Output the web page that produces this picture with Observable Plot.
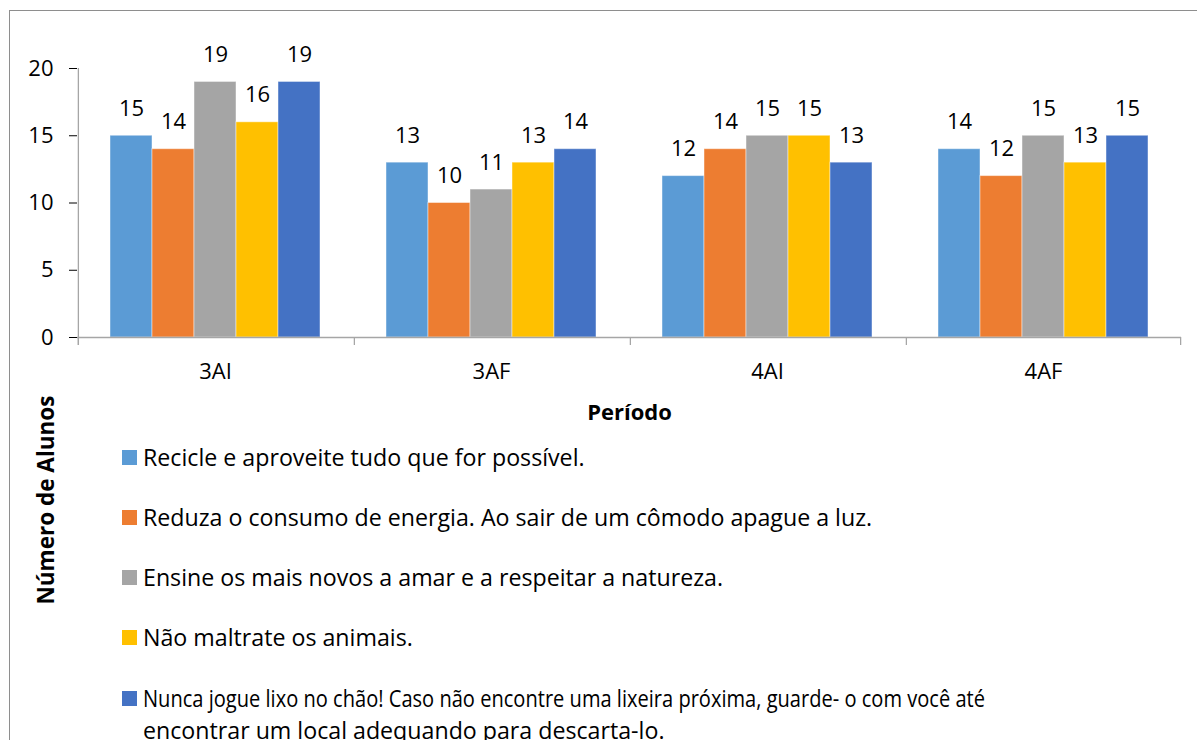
<!DOCTYPE html>
<html>
<head>
<meta charset="utf-8">
<script src="https://cdn.jsdelivr.net/npm/d3@7"></script>
<script src="https://cdn.jsdelivr.net/npm/@observablehq/plot@0.6"></script>
<style>
html, body { margin: 0; padding: 0; background: #fff; overflow: hidden; width: 1197px; height: 740px; }
#frame { position: absolute; left: 9px; top: 10px; width: 1300px; height: 900px; border: 1px solid #8e8e8e; box-sizing: border-box; pointer-events: none; }
#chart { position: absolute; left: 0; top: 0; }
#ytitle { position: absolute; left: 45px; top: 500px; transform: translate(-50%, -50%) rotate(-90deg); font: bold 22.5px "Open Sans", sans-serif; white-space: nowrap; color: #000; }
.legend-item { position: absolute; left: 122px; font: 23.2px "Open Sans", sans-serif; line-height: 32px; color: #000; }
.legend-item .sw { position: absolute; left: 0; top: 9px; width: 15px; height: 15px; }
.legend-item .lab { position: absolute; left: 21px; top: 0; white-space: nowrap; }
.legend-item .line { display: block; white-space: nowrap; transform-origin: 0 0; width: max-content; }
#chart [aria-label="fx-axis label"] { font-weight: bold; }
#chart [aria-label="y-axis tick"] { stroke: #a6a6a6; }
</style>
</head>
<body>
<div id="chart"></div>
<div id="ytitle">Número de Alunos</div>
<div id="frame"></div>
<script>
// ---- data ----
const categories = ["3AI", "3AF", "4AI", "4AF"];
const seriesLabels = [
  "Recicle e aproveite tudo que for possível.",
  "Reduza o consumo de energia. Ao sair de um cômodo apague a luz.",
  "Ensine os mais novos a amar e a respeitar a natureza.",
  "Não maltrate os animais.",
  "Nunca jogue lixo no chão! Caso não encontre uma lixeira próxima, guarde- o com você até encontrar um local adequando para descarta-lo."
];
const recicle     = [15, 13, 12, 14];
const reduza      = [14, 10, 14, 12];
const ensine      = [19, 11, 15, 15];
const naoMaltrate = [16, 13, 15, 13];
const nuncaJogue  = [19, 14, 13, 15];
const yTicks = [0, 5, 10, 15, 20];
const seriesColors = ["#5B9BD5", "#ED7D31", "#A5A5A5", "#FFC000", "#4472C4"];

const seriesValues = [recicle, reduza, ensine, naoMaltrate, nuncaJogue];
const data = categories.flatMap((c, i) =>
  seriesLabels.map((s, j) => ({category: c, series: s, value: seriesValues[j][i]})));

// ---- layout ----
const W = 1197, H = 440, mL = 76, mR = 16, mT = 68, mB = H - 337;
const padOuter = 0.75;
const step = (W - mL - mR) / categories.length / (seriesLabels.length + 2 * padOuter);
const edge = step * (0.5 + padOuter);
const axisColor = "#a6a6a6";

const plot = Plot.plot({
  width: W, height: H,
  marginLeft: mL, marginRight: mR, marginTop: mT, marginBottom: mB,
  style: {fontFamily: "'Open Sans', sans-serif", fontSize: "22px", color: "#000", background: "transparent", overflow: "visible"},
  fx: {domain: categories, padding: 0, label: "Período", labelAnchor: "center", labelOffset: 82, tickSize: 0, tickPadding: 26},
  x: {domain: seriesLabels, paddingInner: 0, paddingOuter: padOuter, axis: null},
  y: {domain: [0, 20], ticks: yTicks, tickSize: 8, tickPadding: 16, label: null},
  color: {domain: seriesLabels, range: seriesColors},
  marks: [
    Plot.barY(data, {fx: "category", x: "series", y: "value", fill: "series", stroke: "#fff", strokeOpacity: 0.45, strokeWidth: 1}),
    Plot.ruleY([0], {stroke: axisColor, strokeWidth: 1.3}),
    Plot.ruleX(categories, {fx: d => d, x: () => seriesLabels[0], y1: 0, y2: 0, insetBottom: -8, dx: -edge, stroke: axisColor, strokeWidth: 1.3}),
    Plot.ruleX([categories[categories.length - 1]], {fx: d => d, x: () => seriesLabels[seriesLabels.length - 1], y1: 0, y2: 0, insetBottom: -8, dx: edge, stroke: axisColor, strokeWidth: 1.3}),
    Plot.ruleX([categories[0]], {fx: d => d, x: () => seriesLabels[0], y1: 20, y2: 0, insetBottom: -8, dx: -edge, stroke: axisColor, strokeWidth: 1.3}),
    Plot.text(data, {fx: "category", x: "series", y: "value", text: "value", dy: -27, fill: "#000"})
  ]
});
document.getElementById("chart").appendChild(plot);

// ---- legend ----
const wrapAfter = " até ";        // where the long last entry wraps in the original
const firstLineWidth = 842;       // width of that (condensed) first line in the original
const legend = d3.select("body").selectAll("div.legend-item")
  .data(seriesLabels)
  .join("div")
  .attr("class", "legend-item")
  .style("top", (d, i) => (457.5 - 17 + i * 60.25) + "px");
legend.append("span").attr("class", "sw").style("background", (d, i) => seriesColors[i]);
const labs = legend.append("span").attr("class", "lab");
labs.each(function(d) {
  const k = d.indexOf(wrapAfter);
  const lines = k < 0 ? [d] : [d.slice(0, k + wrapAfter.length - 1), d.slice(k + wrapAfter.length)];
  const spans = d3.select(this).selectAll("span.line").data(lines).join("span").attr("class", "line").text(t => t);
  if (lines.length > 1) {
    const first = spans.node();
    const w = first.getBoundingClientRect().width;
    if (w > firstLineWidth) first.style.transform = `scaleX(${firstLineWidth / w})`;
  }
});
</script>
</body>
</html>
